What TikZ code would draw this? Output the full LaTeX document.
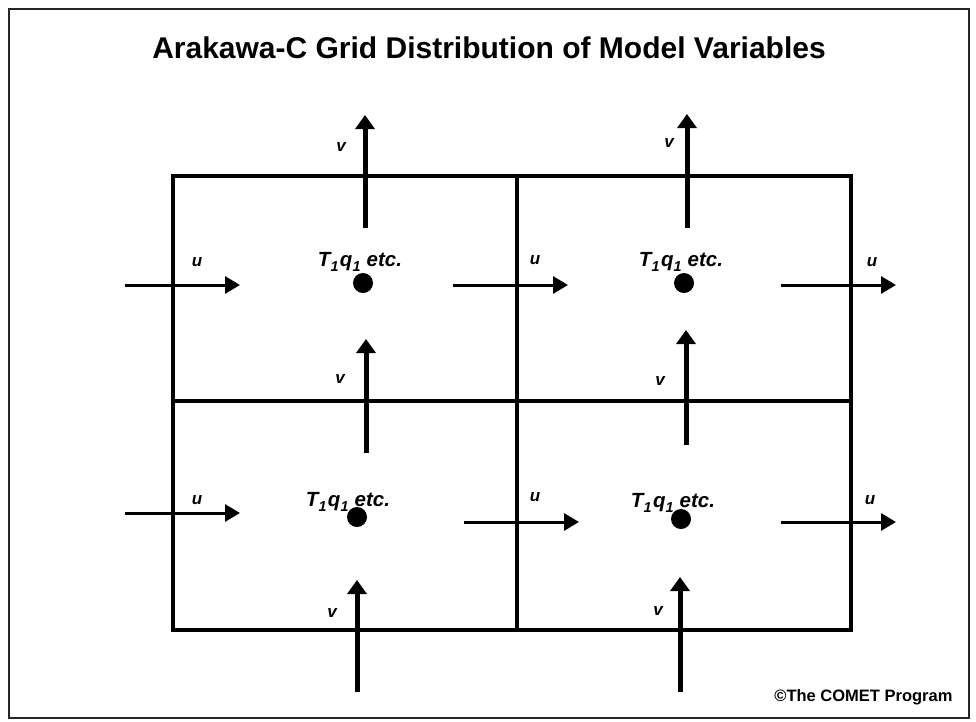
\documentclass[tikz,border=0pt]{standalone}
\usepackage{fontspec}
\setmainfont{Liberation Sans}
\usetikzlibrary{positioning,arrows.meta}

\begin{document}
\begin{tikzpicture}[x=1pt, y=-1pt,
  grid/.style={line width=4.5pt},
  varr/.style={line width=5pt, -{Triangle[length=14pt,width=19pt]}},
  uarr/.style={line width=3pt, -{Triangle[length=15pt,width=17pt]}},
  dot/.style={circle, fill=black, inner sep=0pt, minimum size=20pt},
  mass/.style={font=\fontsize{20.5}{24}\selectfont\bfseries\itshape, inner sep=0pt},
  comp/.style={font=\fontsize{17}{20}\selectfont\bfseries\itshape, inner sep=0pt}]
\useasboundingbox (0,0) rectangle (976,721);
\draw[line width=2pt, black!85] (9,9) rectangle (969,718);
\node[font=\fontsize{30}{36}\selectfont\bfseries] (title) at (489,48)
  {Arakawa-C Grid Distribution of Model Variables};
% grid cells
\draw[grid] (173,176) rectangle (851,630);
\draw[grid] (517,176) -- (517,630);
\draw[grid] (173,401) -- (851,401);
% T, q points
\foreach \n/\x/\y/\lx/\ly in {tl/363/283/360/262, tr/684/283/681/262,
                               bl/357/517/348/502, br/681/519/673/503} {
  \node[dot] (\n) at (\x,\y) {};
  \node[mass] (\n-lab) at (\lx,\ly)
    {T\raisebox{-2pt}{\textsubscript{1}}\kern1pt q\raisebox{-2pt}{\textsubscript{1}}\ etc.};
}
% v points
\foreach \n/\x/\ya/\yb/\lx/\ly in {a/365/228/115/341/147, b/687/228/114/669/143,
    c/366/453/339/340/379, d/686/445/330/660/381,
    e/357/692/580/332/613, f/680/692/577/658/611} {
  \coordinate (v\n-s) at (\x,\ya);
  \coordinate (v\n-e) at (\x,\yb);
  \draw[varr] (v\n-s) -- (v\n-e);
  \node[comp] (v\n-lab) at (\lx,\ly) {v};
}
% u points
\foreach \n/\xa/\xb/\y/\lx/\ly in {a/125/240/285/197/262, b/453/568/285/535/260,
    c/781/896/285/872/262, d/125/240/513/197/500,
    e/464/579/522/535/497, f/781/896/522/870/500} {
  \coordinate (u\n-s) at (\xa,\y);
  \coordinate (u\n-e) at (\xb,\y);
  \draw[uarr] (u\n-s) -- (u\n-e);
  \node[comp] (u\n-lab) at (\lx,\ly) {u};
}
\node[font=\fontsize{16.5}{19}\selectfont\bfseries, anchor=east] (credit) at (956,697)
  {\textcopyright The COMET Program};
\end{tikzpicture}
\end{document}
